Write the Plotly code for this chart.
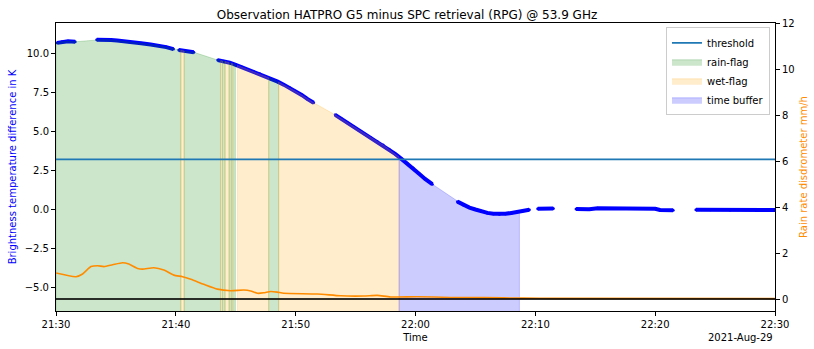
import plotly.graph_objs as go
import pandas as pd
import numpy as np

# minutes after 21:30 UTC, 2021-08-29 ; nan marks a gap in the scan
obs_minutes = [0.1, 0.5, 1.0, 1.6, np.nan,
               3.4, 4.0, 4.6, 5.1, 5.4, 6.1, 7.1, 7.9, 8.5, 9.2, 9.8, np.nan,
               10.25, 10.8, 11.5, np.nan,
               13.5, 14.0, 14.5, 15.0, 15.5, 16.0, 16.5, 17.0, 17.5, 18.0, 18.5,
               19.0, 19.5, 20.0, 20.5, 21.0, 21.5, np.nan,
               23.3, 23.8, 24.3, 24.8, 25.3, 25.8, 26.3, 26.8, 27.3, 27.8, 28.3,
               28.8, 29.3, 29.8, 30.3, 30.8, 31.4, np.nan,
               33.5, 34.0, 34.5, 35.0, 35.5, 36.0, 36.5, 37.0, 37.5, 38.0, 38.5,
               39.0, 39.5, np.nan,
               40.2, 40.8, 41.5, np.nan,
               43.4, 44.5, 45.2, 46.25, 47.5, 48.75, 50.0, 50.4, 51.5, np.nan,
               53.4, 54.6, 56.25, 57.9, 60.0]
tb_diff = [10.65, 10.72, 10.75, 10.72, np.nan,
           10.85, 10.87, 10.84, 10.8, 10.78, 10.72, 10.62, 10.55, 10.48, 10.38, 10.25, np.nan,
           10.2, 10.12, 10.05, np.nan,
           9.55, 9.48, 9.38, 9.25, 9.1, 8.95, 8.8, 8.68, 8.5, 8.33, 8.17,
           7.98, 7.78, 7.55, 7.32, 7.05, 6.82, np.nan,
           6.05, 5.8, 5.55, 5.3, 5.05, 4.8, 4.57, 4.35, 4.12, 3.85, 3.55,
           3.25, 2.95, 2.65, 2.28, 1.95, 1.62, np.nan,
           0.5, 0.28, 0.12, 0.0, -0.12, -0.22, -0.28, -0.3, -0.28, -0.22, -0.15,
           -0.08, -0.02, np.nan,
           0.05, 0.07, 0.06, np.nan,
           0.03, 0.02, 0.08, 0.07, 0.06, 0.06, 0.05, -0.03, -0.05, np.nan,
           -0.02, -0.02, -0.03, -0.02, -0.03]

rain_minutes = [0.0, 1.67, 2.22, 2.92, 3.47, 4.0, 4.72, 5.56, 6.08, 6.81, 7.22, 8.17,
                9.0, 9.83, 10.56, 11.25, 12.33, 13.47, 14.58, 15.67, 16.25, 16.81,
                17.33, 17.92, 18.47, 19.0, 21.81, 23.75, 25.67, 26.81, 27.92, 30.14,
                32.92, 35.67, 39.0, 41.5, 60.0]
rain_rate = [1.13, 0.97, 1.09, 1.41, 1.45, 1.41, 1.49, 1.58, 1.52, 1.33, 1.30, 1.36,
             1.26, 1.04, 0.97, 0.86, 0.64, 0.43, 0.36, 0.39, 0.35, 0.25,
             0.27, 0.33, 0.30, 0.25, 0.22, 0.14, 0.13, 0.16, 0.09, 0.10,
             0.07, 0.06, 0.04, 0.03, 0.02]

rain_flag = [(0.0, 10.42), (10.69, 13.75), (13.89, 14.11), (14.44, 14.64),
             (14.75, 14.97), (17.75, 18.58)]
wet_flag = [(10.42, 10.69), (13.75, 13.89), (14.11, 14.44), (14.64, 14.75),
            (15.14, 17.75), (18.58, 28.63)]
time_buffer = [(28.63, 38.67)]

threshold = 3.2
start = pd.Timestamp('2021-08-29 21:30')
end = pd.Timestamp('2021-08-29 22:30')


def to_time(m):
    return [start + pd.Timedelta(minutes=v) if not np.isnan(v) else None for v in m]


obs_m = np.array(obs_minutes)
obs_tb = np.array(tb_diff)
ok = ~np.isnan(obs_m)
m_ok, tb_ok = obs_m[ok], obs_tb[ok]


def flag_polygon(segments, floor=-8):
    xs, ys = [], []
    for a, b in segments:
        inside = (m_ok > a) & (m_ok < b)
        px = [a] + list(m_ok[inside]) + [b, b, a, a]
        py = [np.interp(a, m_ok, tb_ok)] + list(tb_ok[inside]) + \
             [np.interp(b, m_ok, tb_ok), floor, floor, np.interp(a, m_ok, tb_ok)]
        xs += to_time(px) + [None]
        ys += py + [None]
    return xs, ys


fig = go.Figure()

fig.add_trace(go.Scatter(x=to_time(obs_minutes), y=tb_diff, mode='lines+markers',
                         line=dict(color='blue', width=4), marker=dict(color='blue', size=3),
                         connectgaps=False, showlegend=False, hoverinfo='skip'))

flags = [('rain-flag', rain_flag, 'rgba(0,128,0,0.2)', 2),
         ('wet-flag', wet_flag, 'rgba(255,165,0,0.2)', 3),
         ('time buffer', time_buffer, 'rgba(0,0,255,0.2)', 4)]
for name, segs, col, rank in flags:
    px, py = flag_polygon(segs)
    fig.add_trace(go.Scatter(x=px, y=py, mode='lines', fill='toself', fillcolor=col,
                             line=dict(color=col, width=1), name=name, legendrank=rank))

fig.add_trace(go.Scatter(x=[start, end], y=[threshold, threshold], mode='lines',
                         line=dict(color='#1f77b4', width=1.8), name='threshold', legendrank=1))

fig.add_trace(go.Scatter(x=to_time(rain_minutes), y=rain_rate, mode='lines', yaxis='y2',
                         line=dict(color='darkorange', width=1.6, shape='spline', smoothing=0.6),
                         showlegend=False))
fig.add_trace(go.Scatter(x=[start, end], y=[0, 0], mode='lines', yaxis='y2',
                         line=dict(color='rgba(0,0,0,0.8)', width=2), showlegend=False))

fig.update_layout(
    title=dict(text='Observation HATPRO G5 minus SPC retrieval (RPG) @ 53.9 GHz',
               x=0.5, xanchor='center', y=0.958, yanchor='middle', font=dict(size=12, color='black')),
    width=814, height=349,
    font=dict(family='DejaVu Sans', size=10, color='black'),
    plot_bgcolor='white', paper_bgcolor='white',
    margin=dict(l=56, r=39, t=23, b=38, autoexpand=False),
    showlegend=True,
    legend=dict(x=0.993, y=0.985, xanchor='right', yanchor='top', bgcolor='rgba(255,255,255,0.8)',
                bordercolor='#cccccc', borderwidth=1, font=dict(size=10), tracegroupgap=0,
                itemwidth=30),
    xaxis=dict(range=[start, end], tickformat='%H:%M', dtick=600000, showgrid=False,
               showline=True, mirror=True, linecolor='black', linewidth=1, ticks='outside',
               ticklen=4, tickcolor='black', title=dict(text='Time', standoff=4, font=dict(size=10)),
               zeroline=False),
    yaxis=dict(range=[-6.49, 11.92], tickvals=[-5, -2.5, 0, 2.5, 5, 7.5, 10], tickformat='.1f',
               showgrid=False, zeroline=False, showline=True, linecolor='black', linewidth=1,
               ticks='outside', ticklen=4, tickcolor='black',
               title=dict(text='Brightness temperature difference in K', font=dict(color='blue', size=10),
                          standoff=6)),
    yaxis2=dict(range=[-0.52, 12], tickvals=[0, 2, 4, 6, 8, 10, 12], overlaying='y', side='right',
                showgrid=False, zeroline=False, showline=True, linecolor='black', linewidth=1,
                ticks='outside', ticklen=4, tickcolor='black',
                title=dict(text='Rain rate disdrometer mm/h', font=dict(color='darkorange', size=10),
                           standoff=6)),
)

fig.add_annotation(text='2021-Aug-29', xref='paper', yref='paper', x=1.0, y=-0.065,
                   xanchor='right', yanchor='top', showarrow=False, font=dict(size=10))

fig.write_html("out.html", config={'displayModeBar': False, 'responsive': False},
               post_script="document.body.style.margin='0';")
